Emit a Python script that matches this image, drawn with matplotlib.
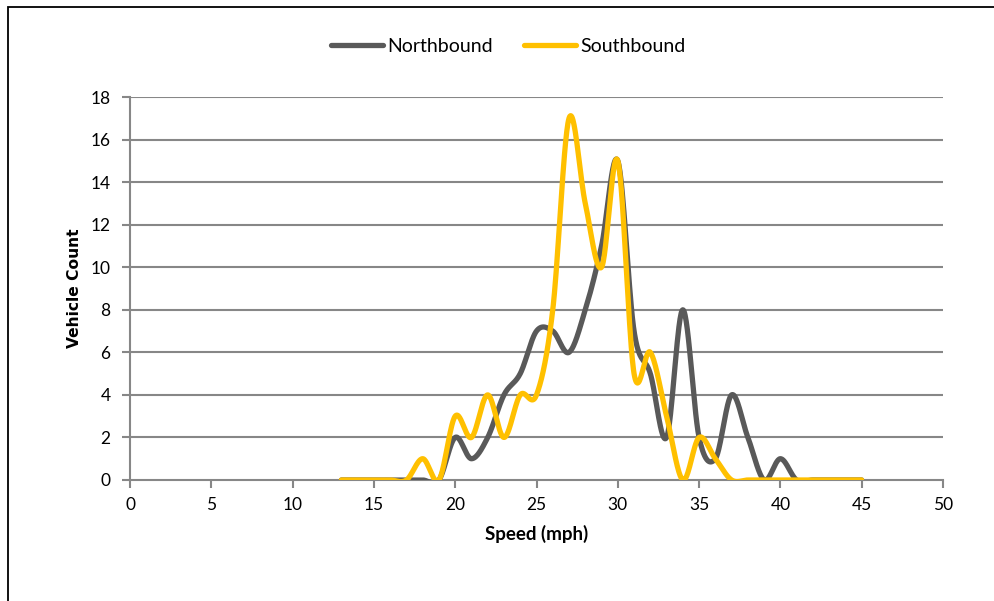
import numpy as np
import matplotlib
matplotlib.use("Agg")
import matplotlib.pyplot as plt
from matplotlib.patches import Rectangle

# speeds (mph) and counts
speed = list(range(13, 46))
northbound = [0, 0, 0, 0, 0, 0, 0, 2, 1, 2, 4, 5, 7, 7, 6, 8, 11, 15, 7, 5, 2, 8, 2, 1, 4, 2, 0, 1, 0, 0, 0, 0, 0]
southbound = [0, 0, 0, 0, 0, 1, 0, 3, 2, 4, 2, 4, 4, 8, 17, 13, 10, 15, 5, 6, 3, 0, 2, 1, 0, 0, 0, 0, 0, 0, 0, 0, 0]

x_ticks = [0, 5, 10, 15, 20, 25, 30, 35, 40, 45, 50]
y_ticks = [0, 2, 4, 6, 8, 10, 12, 14, 16, 18]


def smooth(xs, ys, n=30):
    # excel style smoothed line (catmull-rom bezier)
    xs = np.asarray(xs, float)
    ys = np.asarray(ys, float)
    px = np.concatenate([[xs[0]], xs, [xs[-1]]])
    py = np.concatenate([[ys[0]], ys, [ys[-1]]])
    outx, outy = [], []
    t = np.linspace(0, 1, n)
    for i in range(1, len(px) - 2):
        p0 = np.array([px[i], py[i]])
        p3 = np.array([px[i + 1], py[i + 1]])
        p1 = p0 + (np.array([px[i + 1], py[i + 1]]) - np.array([px[i - 1], py[i - 1]])) / 6
        p2 = p3 - (np.array([px[i + 2], py[i + 2]]) - np.array([px[i], py[i]])) / 6
        b = ((1 - t) ** 3)[:, None] * p0 + (3 * (1 - t) ** 2 * t)[:, None] * p1 \
            + (3 * (1 - t) * t ** 2)[:, None] * p2 + (t ** 3)[:, None] * p3
        outx.extend(b[:, 0])
        outy.extend(b[:, 1])
    return outx, outy


plt.rcParams['font.family'] = ['Lato', 'DejaVu Sans']

fig = plt.figure(figsize=(9.95, 6.01), dpi=100)
ax = fig.add_axes([130 / 995, 1 - 480 / 601, 813 / 995, 383 / 601])

grid_c = '#878787'
for y in y_ticks[1:]:
    ax.axhline(y, color=grid_c, lw=1.5, zorder=1)

nx, ny = smooth(speed, northbound)
sx, sy = smooth(speed, southbound)
ax.plot(nx, ny, color='#595959', lw=3.8, label='Northbound', zorder=3, solid_capstyle='round')
ax.plot(sx, sy, color='#FFC000', lw=3.8, label='Southbound', zorder=4, solid_capstyle='round')

ax.set_xlim(0, 50)
ax.set_ylim(0, 18)
ax.set_xticks(x_ticks)
ax.set_yticks(y_ticks)
ax.tick_params(axis='both', colors=grid_c, labelcolor='black', labelsize=12.5, length=6, width=1.5)
ax.tick_params(axis='x', pad=6)
ax.tick_params(axis='y', pad=8)
for s in ['top', 'right']:
    ax.spines[s].set_visible(False)
for s in ['left', 'bottom']:
    ax.spines[s].set_color(grid_c)
    ax.spines[s].set_linewidth(1.5)

ax.set_xlabel('Speed (mph)', fontsize=13.5, fontweight='bold', labelpad=9)
ax.set_ylabel('Vehicle Count', fontsize=11.2, fontweight='bold', family=['DejaVu Sans'], labelpad=6)

fig.legend(loc='center', bbox_to_anchor=(508 / 995, 1 - 46 / 601), ncol=2, frameon=False,
           fontsize=14, handlelength=2.7, handletextpad=0.2, columnspacing=1.6)

fig.patches.append(Rectangle((8 / 995, -0.1), 1.2, 1 - 7 / 601 + 0.1, transform=fig.transFigure,
                             fill=False, edgecolor='black', lw=1.3))

fig.savefig('out.png', dpi=100)
